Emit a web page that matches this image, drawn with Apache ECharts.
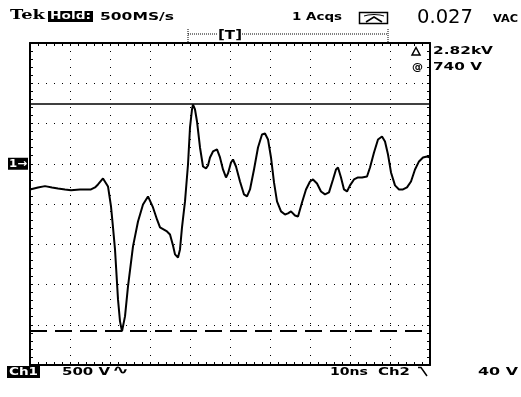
<!DOCTYPE html>
<html>
<head>
<meta charset="utf-8">
<script src="https://cdn.jsdelivr.net/npm/echarts@6/dist/echarts.min.js"></script>
<style>
  html, body { margin: 0; padding: 0; background: #fff; }
  #scope { width: 521px; height: 397px; }
</style>
</head>
<body>
<div id="scope"></div>
<script>
// Ch1 acquisition: time in ns (10 ns/div) and voltage in V (500 V/div)
const timeNs = [
  0, 2, 3.75, 5.5, 7, 8.75, 10.25, 12.5, 15.25, 16.25,
  17, 18.25, 18.75, 19.5, 20.25, 20.75, 21.25, 22, 22.5, 23,
  23.25, 23.75, 24.5, 25.75, 27, 28.25, 29.5, 30, 30.75, 31.75,
  32.5, 34.25, 35, 35.75, 36.25, 37, 37.5, 38, 38.75, 39.5,
  40, 40.5, 40.75, 41.25, 41.75, 42.5, 43.25, 44, 44.5, 45,
  45.75, 46.75, 47.5, 48.25, 49, 49.5, 50.25, 50.75, 51.5, 52.5,
  53.5, 54.25, 55, 56, 57, 58, 58.75, 59.5, 60.25, 61,
  61.75, 62.75, 63.75, 64.5, 65.25, 66.25, 67, 68, 69, 70,
  70.75, 71.75, 72.75, 73.75, 74.75, 75.75, 76.5, 77, 77.75, 78.5,
  79.25, 80, 81, 82, 83, 84.25, 85, 86, 87, 88,
  88.75, 89.5, 90.25, 91.25, 92.25, 93.25, 94.25, 95.25, 96.25, 97.25,
  98.25, 99.25, 100
];
const ch1Volts = [
  -319, -294, -278, -294, -307, -319, -328, -319, -319, -294,
  -257, -183, -195, -282, -530, -791, -1064, -1685, -1958, -2080,
  -2058, -1896, -1524, -1027, -717, -506, -406, -419, -543, -692,
  -791, -841, -878, -1015, -1126, -1164, -1064, -791, -468, -9,
  451, 674, 736, 674, 525, 202, -34, -58, -21, 78,
  153, 178, 78, -71, -170, -120, 16, 53, -34, -220,
  -381, -406, -319, -71, 202, 364, 376, 302, 78, -232,
  -468, -592, -630, -617, -592, -642, -655, -481, -319, -220,
  -195, -245, -344, -381, -356, -195, -71, -46, -170, -319,
  -344, -269, -195, -170, -170, -158, -46, 140, 302, 339,
  277, 115, -108, -269, -319, -319, -294, -220, -71, 29,
  78, 90, 78
];

// Voltage cursors
const cursorLevelV = 740;
const cursorDeltaV = 2820;

// Screen scale and readouts
const timeRange = [0, 100];
const timePerDiv = 10;
const voltRange = [-2500, 1500];
const voltPerDiv = 500;
const headerLeft = ['Tek', 'Hold:', '500MS/s'];
const headerRight = ['1 Acqs', '0.027', 'VAC'];
const footer = ['Ch1', '500 V', '10ns', 'Ch2', '40 V'];

const INK = '#000';
const SANS = '"DejaVu Sans", sans-serif';

const measureCtx = document.createElement('canvas').getContext('2d');

// Text stretched horizontally to a given width, like the scope's wide bitmap font
function wideText(text, left, cy, width, size, weight, color, family) {
  const font = `${weight} ${size}px ${family || SANS}`;
  measureCtx.font = font;
  const w = measureCtx.measureText(text).width || 1;
  return {
    type: 'text', x: left, y: cy, scaleX: width / w, z: 20,
    style: { text: text, font: font, fill: color || INK, align: 'left', verticalAlign: 'middle' }
  };
}
function box(x, y, w, h) {
  return { type: 'rect', shape: { x: x, y: y, width: w, height: h }, style: { fill: INK }, z: 15 };
}
function seg(points, dash, width) {
  return {
    type: 'polyline', shape: { points: points }, z: 15,
    style: { stroke: INK, lineWidth: width || 1, fill: null, lineDash: dash || null }
  };
}

function frameAxis(pos, range, interval, withGrid) {
  return {
    type: 'value', position: pos, min: range[0], max: range[1], interval: interval,
    axisLine: { show: true, onZero: false, lineStyle: { color: INK, width: 2 } },
    axisTick: { show: true, inside: true, length: 3, lineStyle: { color: INK, width: 1 } },
    minorTick: { show: true, splitNumber: 5, length: 3, lineStyle: { color: INK, width: 1 } },
    axisLabel: { show: false },
    splitLine: { show: withGrid, lineStyle: { color: INK, width: 1, type: [1, 7] } },
    minorSplitLine: { show: false }
  };
}

const chart = echarts.init(document.getElementById('scope'), null, { renderer: 'canvas' });

chart.setOption({
  animation: false,
  backgroundColor: '#fff',
  grid: { left: 30, right: 91, top: 43, bottom: 32 },
  xAxis: [
    frameAxis('bottom', timeRange, timePerDiv, true),
    frameAxis('top', timeRange, timePerDiv, false)
  ],
  yAxis: [
    frameAxis('left', voltRange, voltPerDiv, true),
    frameAxis('right', voltRange, voltPerDiv, false)
  ],
  series: [{
    type: 'line',
    xAxisIndex: 0, yAxisIndex: 0,
    data: timeNs.map((t, i) => [t, ch1Volts[i]]),
    showSymbol: false,
    lineStyle: { color: INK, width: 2 },
    z: 5,
    markLine: {
      silent: true,
      symbol: ['none', 'none'],
      label: { show: false },
      data: [
        { yAxis: cursorLevelV, lineStyle: { type: 'solid', color: INK, width: 1.5 } },
        { yAxis: cursorLevelV - cursorDeltaV, lineStyle: { type: [17, 8], color: INK, width: 2 } }
      ]
    }
  }]
});

// Ground reference marker sits at 0 V of Ch1
const groundY = chart.convertToPixel({ yAxisIndex: 0 }, 0);

const graphics = [
  // header
  wideText(headerLeft[0], 10, 16, 35, 13, 'bold', INK, '"DejaVu Serif", serif'),
  box(48, 11, 45, 11),
  wideText(headerLeft[1], 50, 16.5, 41, 10, 'bold', '#fff'),
  wideText(headerLeft[2], 100, 17, 74, 11, 'bold'),
  wideText(headerRight[0], 292, 17, 50, 11, 'bold'),
  { type: 'rect', shape: { x: 359.5, y: 12.5, width: 28, height: 11 }, z: 15,
    style: { fill: null, stroke: INK, lineWidth: 1.5 } },
  seg([[364, 16], [368, 15], [374, 14.5], [380, 15], [384, 16]], null, 1),
  seg([[366, 22], [374, 17], [382, 22]], null, 1.5),
  wideText(headerRight[1], 417, 18, 56, 19, 'normal'),
  wideText(headerRight[2], 493, 19, 25, 10, 'bold'),

  // record window indicator with trigger mark
  seg([[188, 29], [188, 43]], [1, 1], 1),
  seg([[388, 29], [388, 43]], [1, 1], 1),
  seg([[188, 34], [218, 34]], [1, 1], 1),
  seg([[242, 34], [388, 34]], [1, 1], 1),
  wideText('[T]', 218, 36, 24, 12, 'bold'),

  // cursor readouts
  { type: 'polygon', shape: { points: [[412, 55], [420, 55], [416, 47.5]] }, z: 20,
    style: { fill: null, stroke: INK, lineWidth: 1.5 } },
  wideText((cursorDeltaV / 1000).toFixed(2) + 'kV', 433, 51, 60, 11, 'bold'),
  wideText('@', 412, 67, 11, 11, 'bold'),
  wideText(cursorLevelV + ' V', 433, 67, 49, 11, 'bold'),

  // Ch1 ground marker
  box(8, groundY - 6, 20, 12),
  wideText('1→', 9, groundY, 18, 11, 'bold', '#fff'),

  // footer
  box(7, 366, 33, 12),
  wideText(footer[0], 9, 372, 29, 11, 'bold', '#fff'),
  wideText(footer[1], 62, 372, 48, 11, 'bold'),
  wideText('∿', 112, 371, 17, 13, 'bold'),
  wideText(footer[2], 330, 372, 38, 11, 'bold'),
  wideText(footer[3], 378, 372, 32, 11, 'bold'),
  seg([[418, 367.5], [421, 367.5], [427, 376]], null, 1.5),
  wideText(footer[4], 478, 372, 40, 11, 'bold')
];

chart.setOption({ graphic: graphics });
</script>
</body>
</html>
